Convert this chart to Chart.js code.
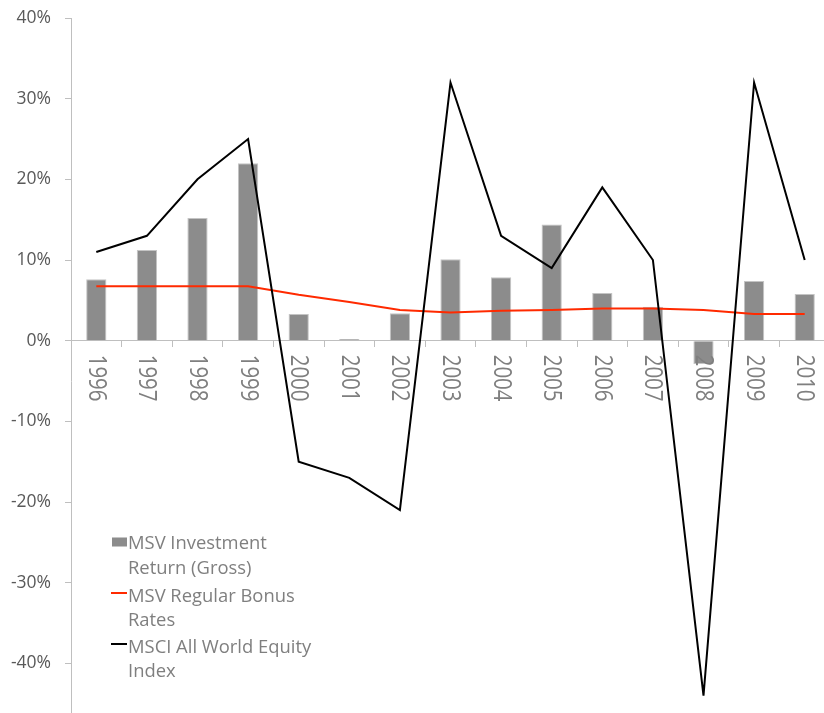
<!DOCTYPE html>
<html>
<head>
<meta charset="utf-8">
<script src="https://cdn.jsdelivr.net/npm/chart.js@4.4.1/dist/chart.umd.min.js"></script>
<style>
  html, body { margin: 0; padding: 0; background: #ffffff; overflow: hidden; }
  #wrap { position: absolute; left: 0; top: 0; width: 840px; height: 760px; }
</style>
</head>
<body>
<div id="wrap"><canvas id="c"></canvas></div>
<script>
const categories = ['1996','1997','1998','1999','2000','2001','2002','2003','2004','2005','2006','2007','2008','2009','2010'];
const investmentReturn = [7.6, 11.25, 15.2, 22.0, 3.3, 0.2, 3.4, 10.1, 7.85, 14.4, 5.9, 4.2, -2.9, 7.4, 5.8];
const bonusRates = [6.75, 6.75, 6.75, 6.75, 5.7, 4.8, 3.8, 3.5, 3.7, 3.8, 4.0, 4.0, 3.8, 3.3, 3.3];
const equityIndex = [11.0, 13.0, 20.0, 25.0, -15.0, -17.0, -21.0, 32.0, 13.0, 9.0, 19.0, 10.0, -44.0, 32.0, 10.0];
const seriesNames = ['MSV Investment Return (Gross)', 'MSV Regular Bonus Rates', 'MSCI All World Equity Index'];
const legendLines = [['MSV Investment', 'Return (Gross)'], ['MSV Regular Bonus', 'Rates'], ['MSCI All World Equity', 'Index']];
const yTickValues = [40, 30, 20, 10, 0, -10, -20, -30, -40, -50];

const AXIS = '#bfbfbf';

const xLabelPlugin = {
  id: 'xLabels',
  afterDraw(chart) {
    const ctx = chart.ctx;
    const xs = chart.scales.x, ys = chart.scales.y;
    const y0 = ys.getPixelForValue(0) + 14;
    ctx.save();
    ctx.fillStyle = '#7f7f7f';
    ctx.font = '20.5px "Open Sans"';
    ctx.textAlign = 'left';
    ctx.textBaseline = 'middle';
    chart.data.labels.forEach((lab, i) => {
      const x = xs.getPixelForTick(i);
      ctx.save();
      ctx.translate(x, y0);
      ctx.rotate(Math.PI / 2);
      ctx.scale(1, 1.28);
      ctx.fillText(lab, 0, 0);
      ctx.restore();
    });
    ctx.restore();
  }
};

const legendPlugin = {
  id: 'customLegend',
  afterDraw(chart) {
    const ctx = chart.ctx;
    const left = chart.chartArea.left;
    const mx = left + 41, tx = left + 57;
    const baselines = [549, 601.5, 652.5];
    ctx.save();
    ctx.font = '18.4px "Open Sans"';
    ctx.textAlign = 'left';
    ctx.textBaseline = 'alphabetic';
    seriesNames.forEach((name, i) => {
      const ds = chart.data.datasets.find(d => d.label === name);
      const b = baselines[i];
      if (ds.type === 'bar') {
        ctx.fillStyle = ds.backgroundColor;
        ctx.fillRect(mx, b - 11.5, 15, 9);
      } else {
        ctx.strokeStyle = ds.borderColor;
        ctx.lineWidth = 2;
        ctx.beginPath();
        ctx.moveTo(mx - 1, b - 8.5);
        ctx.lineTo(mx + 15, b - 8.5);
        ctx.stroke();
      }
      ctx.fillStyle = '#7f7f7f';
      legendLines[i].forEach((t, k) => ctx.fillText(t, tx, b + k * 24.5));
    });
    ctx.restore();
  }
};

new Chart(document.getElementById('c'), {
  data: {
    labels: categories,
    datasets: [
      { type: 'line', label: seriesNames[2], data: equityIndex, borderColor: '#000000', backgroundColor: '#000000', borderWidth: 2, pointRadius: 0, tension: 0, order: 0 },
      { type: 'line', label: seriesNames[1], data: bonusRates, borderColor: '#ff2a00', backgroundColor: '#ff2a00', borderWidth: 2, pointRadius: 0, tension: 0, order: 1 },
      { type: 'bar', label: seriesNames[0], data: investmentReturn, backgroundColor: '#8c8c8c', borderColor: '#c4c4c4', borderWidth: 1, barPercentage: 0.4, categoryPercentage: 1.0, order: 2 }
    ]
  },
  options: {
    responsive: true,
    maintainAspectRatio: false,
    animation: false,
    layout: { padding: { left: 0, top: 18, right: 10, bottom: 16 } },
    plugins: { legend: { display: false }, tooltip: { enabled: false } },
    scales: {
      x: {
        type: 'category',
        position: { y: 0 },
        offset: true,
        border: { display: true, color: AXIS, width: 1 },
        grid: { display: true, offset: true, drawOnChartArea: false, drawTicks: true, tickLength: 6, color: AXIS },
        ticks: { display: false },
        afterFit(s) { s.height = 0; s.paddingTop = 0; s.paddingBottom = 0; s.paddingLeft = 0; s.paddingRight = 0; }
      },
      y: {
        type: 'linear',
        position: 'left',
        min: -50,
        max: 40,
        afterBuildTicks(s) { s.ticks = yTickValues.map(v => ({ value: v })); },
        border: { display: true, color: AXIS, width: 1 },
        grid: { display: true, drawOnChartArea: false, drawTicks: true, tickLength: 6, color: AXIS },
        ticks: {
          color: '#595959',
          font: { family: '"Open Sans"', size: 17.5 },
          padding: 14,
          callback: v => v + '%'
        },
        afterFit(s) { s.width = 71; s.paddingTop = 0; s.paddingBottom = 0; }
      }
    }
  },
  plugins: [xLabelPlugin, legendPlugin]
});
</script>
</body>
</html>
